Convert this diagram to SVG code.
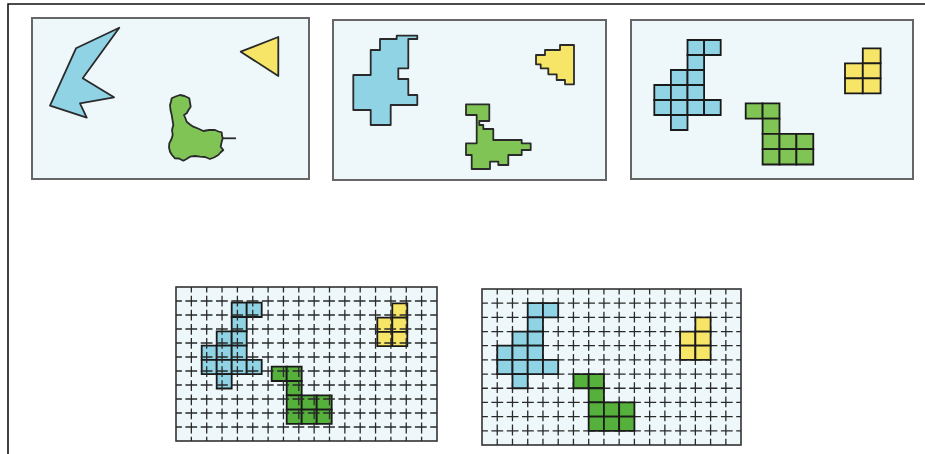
<svg xmlns="http://www.w3.org/2000/svg" width="925" height="454" viewBox="0 0 925 454">
<style>
.panel{fill:#eef8fb;stroke:#666;stroke-width:2}
.gpanel{fill:#eef8fb;stroke:#333;stroke-width:1.6}
.blue{fill:#8fd3e4}
.green{fill:#80c455}
.dgreen{fill:#55b03c}
.yellow{fill:#f6e567}
.shape{stroke:#2a2a2a;stroke-width:1.8;stroke-linejoin:round}
.cell{stroke:#1a1a1a;stroke-width:1.8;vector-effect:non-scaling-stroke}
.gv{stroke:#2a2a2a;stroke-width:1.3;stroke-dasharray:10.8 3.3;stroke-dashoffset:5.4}
.gh{stroke:#2a2a2a;stroke-width:1.3;stroke-dasharray:11.8 3.5;stroke-dashoffset:5.9}
</style>
<defs>
<g id="bc">
<rect class="cell" x="2" y="0" width="1" height="1"/><rect class="cell" x="3" y="0" width="1" height="1"/>
<rect class="cell" x="2" y="1" width="1" height="1"/>
<rect class="cell" x="1" y="2" width="1" height="1"/><rect class="cell" x="2" y="2" width="1" height="1"/>
<rect class="cell" x="0" y="3" width="1" height="1"/><rect class="cell" x="1" y="3" width="1" height="1"/><rect class="cell" x="2" y="3" width="1" height="1"/>
<rect class="cell" x="0" y="4" width="1" height="1"/><rect class="cell" x="1" y="4" width="1" height="1"/><rect class="cell" x="2" y="4" width="1" height="1"/><rect class="cell" x="3" y="4" width="1" height="1"/>
<rect class="cell" x="1" y="5" width="1" height="1"/>
</g>
<g id="gc">
<rect class="cell" x="0" y="0" width="1" height="1"/><rect class="cell" x="1" y="0" width="1" height="1"/>
<rect class="cell" x="1" y="1" width="1" height="1"/>
<rect class="cell" x="1" y="2" width="1" height="1"/><rect class="cell" x="2" y="2" width="1" height="1"/><rect class="cell" x="3" y="2" width="1" height="1"/>
<rect class="cell" x="1" y="3" width="1" height="1"/><rect class="cell" x="2" y="3" width="1" height="1"/><rect class="cell" x="3" y="3" width="1" height="1"/>
</g>
<g id="yc">
<rect class="cell" x="1" y="0" width="1" height="1"/>
<rect class="cell" x="0" y="1" width="1" height="1"/><rect class="cell" x="1" y="1" width="1" height="1"/>
<rect class="cell" x="0" y="2" width="1" height="1"/><rect class="cell" x="1" y="2" width="1" height="1"/>
</g>
</defs>

<rect width="925" height="454" fill="#fff"/>
<path d="M8 454V4H925" fill="none" stroke="#111" stroke-width="1.6"/>

<!-- Panel 1: vector -->
<g id="panel1">
<rect class="panel" x="32" y="18" width="277" height="161"/>
<polygon class="shape blue" points="119.3,27.7 76,48.3 50,105.7 86.7,117.7 80,103.3 114,97.3 82.7,78.3"/>
<polygon class="shape yellow" points="240.7,51.7 278.3,37 278.3,76"/>
<line x1="221" y1="138.3" x2="236" y2="138.3" stroke="#2a2a2a" stroke-width="1.8"/>
<polygon class="shape green" points="171.7,98.3 175.5,96.5 180,95 184.5,96 189.3,98.3 190,102.5 190.7,106.7 188.5,110 186.7,113.3 184,115 185.5,118.5 186.7,121.7 190,124.5 193.3,126.7 198,128.5 203.3,131 209,130 215,130 218.5,131.5 221.7,132.3 222,135.5 222.7,138.3 221.5,142.5 220.7,146.7 223.3,150 220.5,152.5 218.3,155 214,157.5 210,159 205,157 200,156.7 195,156 190,156.7 186.5,159 183.3,160.7 179,158.5 175,158.3 172,155 170,151.7 169,147.5 169.3,143.3 171.5,139 172.7,135 172,130 173.3,125 172.5,120 171.7,115 170.5,110 170,105 171,101.5"/>
</g>

<!-- Panel 2: staircase -->
<g id="panel2">
<rect class="panel" x="333" y="20" width="273" height="160"/>
<polygon class="shape blue" points="380,39 396.7,39 396.7,35.7 417.3,35.7 417.3,39 408.3,39 408.3,68.3 398.3,68.3 398.3,79 408.3,79 408.3,95 417.3,95 417.3,105 390.7,105 390.7,125 370.7,125 370.7,110 353.3,110 353.3,75 370.7,75 370.7,50 380,50"/>
<polygon class="shape yellow" points="536,55 545,55 545,50 560,50 560,45 574,45 574,84.3 565,84.3 565,80 556.7,80 556.7,74.3 548.3,74.3 548.3,68.3 540.7,68.3 540.7,64.3 536,64.3"/>
<polygon class="shape green" points="466,104.3 489.3,104.3 489.3,121 479.3,121 479.3,125 483.3,125 483.3,129 493.3,129 493.3,140 521.7,140 521.7,143.3 530.7,143.3 530.7,150 521.7,150 521.7,155 508.3,155 508.3,165 498.3,165 498.3,161.7 490,161.7 490,169 471.7,169 471.7,155 466,155 466,143.3 476.7,143.3 476.7,115 466,115"/>
</g>

<!-- Panel 3: raster cells -->
<g id="panel3">
<rect class="panel" x="631" y="20" width="282" height="159"/>
<use href="#bc" class="blue" transform="translate(654.3,40) scale(16.6,15)"/>
<use href="#gc" class="green" transform="translate(745.7,103.3) scale(16.9,15.3)"/>
<use href="#yc" class="yellow" transform="translate(845,48.3) scale(17.8,15)"/>
</g>

<!-- Panel 4: misaligned grid -->
<g id="panel4">
<rect class="gpanel" x="176" y="287" width="261" height="154"/>
<use href="#bc" class="blue" transform="translate(201.7,302.7) scale(15,14.3)"/>
<use href="#gc" class="dgreen" transform="translate(271.7,366.7) scale(15,14.3)"/>
<use href="#yc" class="yellow" transform="translate(377.3,303.3) scale(15,14.3)"/>
<g>
<line class="gv" x1="191.35" y1="287" x2="191.35" y2="441"/><line class="gv" x1="206.7" y1="287" x2="206.7" y2="441"/><line class="gv" x1="222.05" y1="287" x2="222.05" y2="441"/><line class="gv" x1="237.4" y1="287" x2="237.4" y2="441"/><line class="gv" x1="252.75" y1="287" x2="252.75" y2="441"/><line class="gv" x1="268.1" y1="287" x2="268.1" y2="441"/><line class="gv" x1="283.45" y1="287" x2="283.45" y2="441"/><line class="gv" x1="298.8" y1="287" x2="298.8" y2="441"/><line class="gv" x1="314.15" y1="287" x2="314.15" y2="441"/><line class="gv" x1="329.5" y1="287" x2="329.5" y2="441"/><line class="gv" x1="344.85" y1="287" x2="344.85" y2="441"/><line class="gv" x1="360.2" y1="287" x2="360.2" y2="441"/><line class="gv" x1="375.55" y1="287" x2="375.55" y2="441"/><line class="gv" x1="390.9" y1="287" x2="390.9" y2="441"/><line class="gv" x1="406.25" y1="287" x2="406.25" y2="441"/><line class="gv" x1="421.6" y1="287" x2="421.6" y2="441"/>
<line class="gh" x1="176" y1="301" x2="437" y2="301"/><line class="gh" x1="176" y1="315" x2="437" y2="315"/><line class="gh" x1="176" y1="329" x2="437" y2="329"/><line class="gh" x1="176" y1="343" x2="437" y2="343"/><line class="gh" x1="176" y1="357" x2="437" y2="357"/><line class="gh" x1="176" y1="371" x2="437" y2="371"/><line class="gh" x1="176" y1="385" x2="437" y2="385"/><line class="gh" x1="176" y1="399" x2="437" y2="399"/><line class="gh" x1="176" y1="413" x2="437" y2="413"/><line class="gh" x1="176" y1="427" x2="437" y2="427"/>
</g>
</g>

<!-- Panel 5: aligned grid -->
<g id="panel5">
<rect class="gpanel" x="482" y="289" width="259" height="156"/>
<g>
<line class="gv" x1="497.24" y1="289" x2="497.24" y2="445"/><line class="gv" x1="512.48" y1="289" x2="512.48" y2="445"/><line class="gv" x1="527.72" y1="289" x2="527.72" y2="445"/><line class="gv" x1="542.96" y1="289" x2="542.96" y2="445"/><line class="gv" x1="558.2" y1="289" x2="558.2" y2="445"/><line class="gv" x1="573.44" y1="289" x2="573.44" y2="445"/><line class="gv" x1="588.68" y1="289" x2="588.68" y2="445"/><line class="gv" x1="603.92" y1="289" x2="603.92" y2="445"/><line class="gv" x1="619.16" y1="289" x2="619.16" y2="445"/><line class="gv" x1="634.4" y1="289" x2="634.4" y2="445"/><line class="gv" x1="649.64" y1="289" x2="649.64" y2="445"/><line class="gv" x1="664.88" y1="289" x2="664.88" y2="445"/><line class="gv" x1="680.12" y1="289" x2="680.12" y2="445"/><line class="gv" x1="695.36" y1="289" x2="695.36" y2="445"/><line class="gv" x1="710.6" y1="289" x2="710.6" y2="445"/><line class="gv" x1="725.84" y1="289" x2="725.84" y2="445"/>
<line class="gh" x1="482" y1="303.18" x2="741" y2="303.18"/><line class="gh" x1="482" y1="317.36" x2="741" y2="317.36"/><line class="gh" x1="482" y1="331.54" x2="741" y2="331.54"/><line class="gh" x1="482" y1="345.72" x2="741" y2="345.72"/><line class="gh" x1="482" y1="359.9" x2="741" y2="359.9"/><line class="gh" x1="482" y1="374.08" x2="741" y2="374.08"/><line class="gh" x1="482" y1="388.26" x2="741" y2="388.26"/><line class="gh" x1="482" y1="402.44" x2="741" y2="402.44"/><line class="gh" x1="482" y1="416.62" x2="741" y2="416.62"/><line class="gh" x1="482" y1="430.8" x2="741" y2="430.8"/>
</g>
<use href="#bc" class="blue" transform="translate(497.24,303.18) scale(15.24,14.18)"/>
<use href="#gc" class="dgreen" transform="translate(573.44,374.08) scale(15.24,14.18)"/>
<use href="#yc" class="yellow" transform="translate(680.12,317.36) scale(15.24,14.18)"/>
</g>
</svg>
